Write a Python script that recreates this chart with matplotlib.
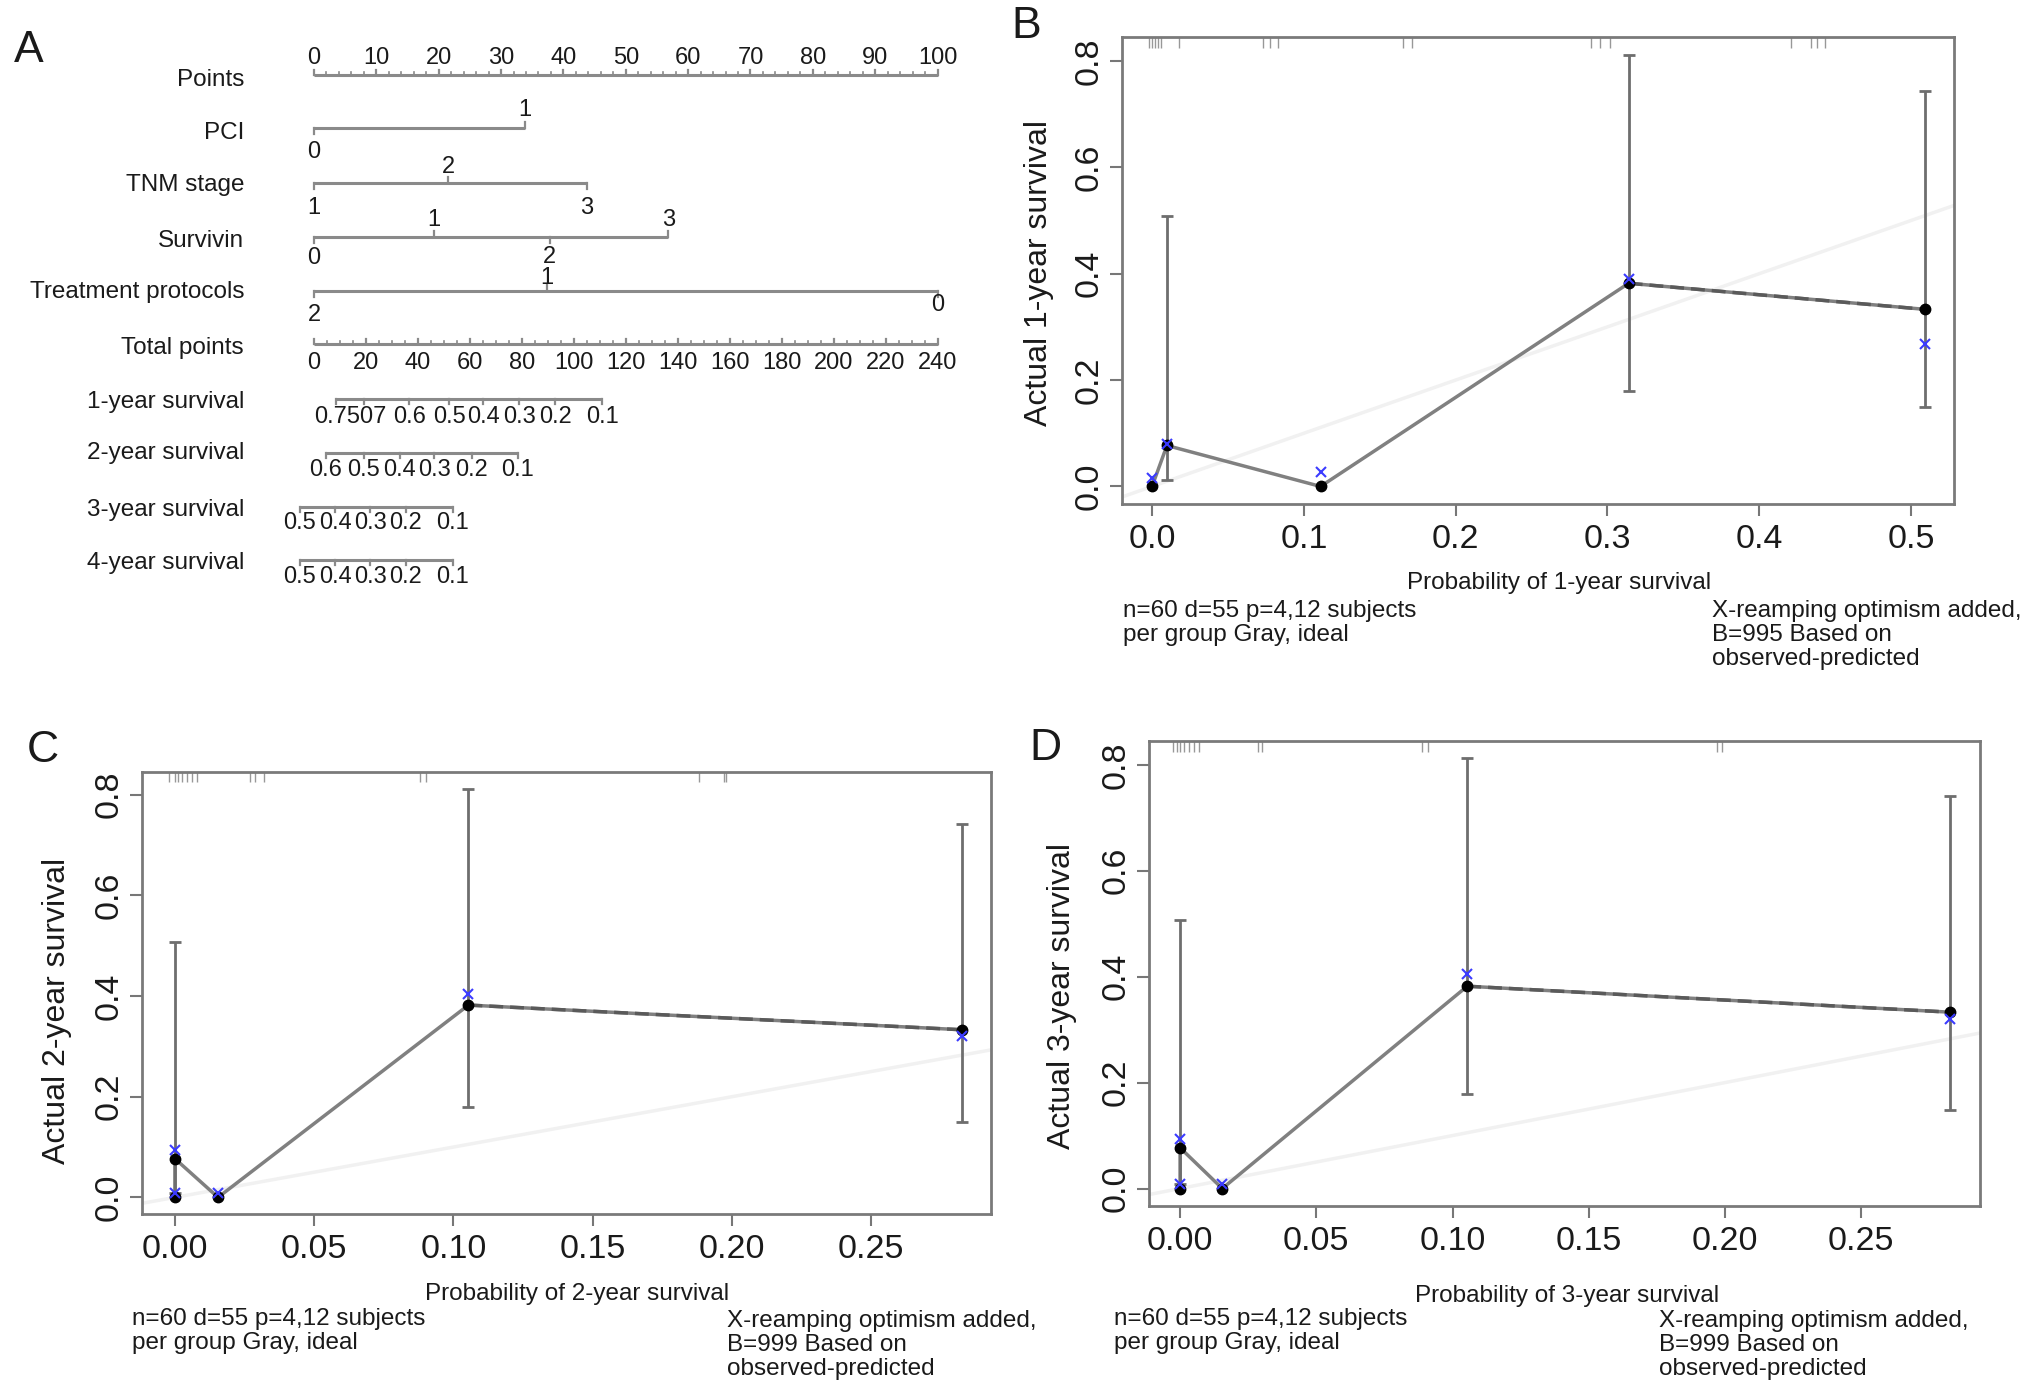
import numpy as np
import matplotlib
matplotlib.use("Agg")
import matplotlib.pyplot as plt

plt.rcParams['font.family'] = ['Liberation Sans', 'DejaVu Sans']

# ---------------- Data: nomogram (panel A) ----------------
points_ticks = list(range(0, 101, 10))
pci_levels = ['0', '1']
pci_points = [0, 33.8]
tnm_levels = ['1', '2', '3']
tnm_points = [0, 21.5, 43.8]
survivin_levels = ['0', '1', '2', '3']
survivin_points = [0, 19.2, 37.8, 56.8]
treat_levels = ['2', '1', '0']
treat_points = [0, 37.4, 100]
total_ticks = list(range(0, 241, 20))
surv1_labels = ['0.7507', '', '0.6', '0.5', '0.4', '0.3', '0.2', '0.1']
surv1_total = [8.5, 19.2, 36.6, 52.0, 65.1, 79.0, 92.8, 110.9]
surv2_labels = ['0.6', '0.5', '0.4', '0.3', '0.2', '0.1']
surv2_total = [4.6, 19.2, 33.1, 46.2, 60.8, 78.5]
surv3_labels = ['0.5', '0.4', '0.3', '0.2', '0.1']
surv3_total = [-5.4, 8.1, 21.6, 35.4, 53.5]
surv4_labels = ['0.5', '0.4', '0.3', '0.2', '0.1']
surv4_total = [-5.4, 8.1, 21.6, 35.4, 53.5]

# ---------------- Data: calibration panels ----------------
b_pred = [0.0, 0.0098, 0.111, 0.314, 0.509]
b_obs = [0.0, 0.077, 0.0, 0.382, 0.333]
b_corr = [0.015, 0.080, 0.028, 0.390, 0.268]
b_lo = [np.nan, 0.012, np.nan, 0.179, 0.150]
b_hi = [np.nan, 0.508, np.nan, 0.812, 0.743]
b_rug = [-0.002, 0.0, 0.002, 0.004, 0.006, 0.018, 0.073, 0.078, 0.083, 0.165, 0.171,
         0.289, 0.295, 0.302, 0.421, 0.434, 0.438, 0.443]

c_pred = [0.0, 0.0, 0.0155, 0.1054, 0.2825]
c_obs = [0.0, 0.077, 0.0, 0.382, 0.333]
c_corr = [0.008, 0.094, 0.008, 0.405, 0.320]
c_lo = [np.nan, 0.008, np.nan, 0.179, 0.149]
c_hi = [np.nan, 0.507, np.nan, 0.812, 0.742]
c_rug = [-0.002, 0.0, 0.001, 0.0025, 0.0043, 0.006, 0.008, 0.027, 0.0287, 0.032,
         0.088, 0.090, 0.188, 0.197, 0.198]

d_pred = [0.0, 0.0, 0.0155, 0.1054, 0.2825]
d_obs = [0.0, 0.077, 0.0, 0.382, 0.333]
d_corr = [0.008, 0.094, 0.008, 0.405, 0.320]
d_lo = [np.nan, 0.008, np.nan, 0.179, 0.149]
d_hi = [np.nan, 0.507, np.nan, 0.812, 0.742]
d_rug = [-0.0026, -0.001, 0.0, 0.0015, 0.0033, 0.005, 0.007, 0.0286, 0.030,
         0.0887, 0.091, 0.197, 0.199]

W, H = 2032, 1394
fig = plt.figure(figsize=(W / 100, H / 100), dpi=100)
fig.patch.set_facecolor('white')

def fx(px):
    return px / W

def fy(py):
    return 1 - py / H

TXT = '#1a1a1a'
GREY = '#8a8a8a'

# ---------------- Panel A: nomogram ----------------
axA = fig.add_axes([0, fy(640), fx(1000), 640 / H])
axA.axis('off')
ppx = (937.5 - 314) / 100.0
axA.set_xlim(-314 / ppx, (1000 - 314) / ppx)
axA.set_ylim(640, 0)
name_x = (244 - 314) / ppx
NFS = 17.5
LFS = 17
lw_axis = 2.2

def row_name(y, name):
    axA.text(name_x, y, name, ha='right', va='center', fontsize=NFS, color=TXT)

# Points row
yP = 75
axA.plot([0, 100], [yP, yP], color=GREY, lw=lw_axis, solid_capstyle='butt')
for v in np.arange(0, 100.01, 2):
    axA.plot([v, v], [yP, yP - 3], color=GREY, lw=1.2)
for v in points_ticks:
    axA.plot([v, v], [yP, yP - 5], color=GREY, lw=1.6)
    axA.text(v, 58, str(v), ha='center', va='center', fontsize=LFS, color=TXT)
row_name(80, 'Points')

def factor_row(y, name, levels, pts, offs, yname):
    axA.plot([min(pts), max(pts)], [y, y], color=GREY, lw=lw_axis, solid_capstyle='butt')
    for lev, p, off in zip(levels, pts, offs):
        sgn = -1 if off < 0 else 1
        axA.plot([p, p], [y, y + 6 * sgn], color=GREY, lw=1.6)
        axA.text(p, y + off, lev, ha='center', va='center', fontsize=LFS, color=TXT)
    row_name(yname, name)

factor_row(128, 'PCI', pci_levels, pci_points, [24, -18], 133)
factor_row(183, 'TNM stage', tnm_levels, tnm_points, [25, -16, 25], 185)
factor_row(237, 'Survivin', survivin_levels, survivin_points, [21, -17, 20, -17], 241)
factor_row(291, 'Treatment protocols', treat_levels, treat_points, [24, -13, 14], 292)

# Total points row
yT = 344
tscale = 100 / 240.0
axA.plot([0, 100], [yT, yT], color=GREY, lw=lw_axis, solid_capstyle='butt')
for v in np.arange(0, 240.01, 5):
    axA.plot([v * tscale] * 2, [yT, yT - 3], color=GREY, lw=1.2)
for v in total_ticks:
    axA.plot([v * tscale] * 2, [yT, yT - 5], color=GREY, lw=1.6)
    axA.text(v * tscale, 363, str(v), ha='center', va='center', fontsize=LFS, color=TXT)
row_name(348, 'Total points')

def surv_row(y, name, labels, totals, ylab, yname):
    p = [t * tscale for t in totals]
    axA.plot([p[0], p[-1]], [y, y], color=GREY, lw=lw_axis, solid_capstyle='butt')
    for i, (lab, pp) in enumerate(zip(labels, p)):
        axA.plot([pp, pp], [y, y + 5], color=GREY, lw=1.6)
        if lab == '':
            continue
        xpos = pp
        if i + 1 < len(labels) and labels[i + 1] == '':
            xpos = (pp + p[i + 1]) / 2
        axA.text(xpos, ylab, lab, ha='center', va='center', fontsize=LFS, color=TXT)
    row_name(yname, name)

surv_row(399, '1-year survival', surv1_labels, surv1_total, 417, 402)
surv_row(453, '2-year survival', surv2_labels, surv2_total, 470, 453)
surv_row(507, '3-year survival', surv3_labels, surv3_total, 523, 510)
surv_row(560, '4-year survival', surv4_labels, surv4_total, 577, 563)

# ---------------- Calibration panels ----------------
YLIM = (-0.033, 0.845)

def calib(box, xlim, xticks, xfmt, pred, obs, corr, lo, hi, rug):
    l, t, r, b = box
    ax = fig.add_axes([fx(l), fy(b), fx(r) - fx(l), (b - t) / H])
    ax.set_xlim(*xlim)
    ax.set_ylim(*YLIM)
    ax.axline((0, 0), slope=1, color='#f1f1f1', lw=2.5, zorder=1)
    # rug of predicted probabilities
    ax.vlines(rug, YLIM[1] - 0.02, YLIM[1], color='#444444', lw=1.0, alpha=0.55, zorder=2)
    # connecting line
    ax.plot(pred, obs, color='#808080', lw=2.5, zorder=3)
    ax.plot(pred[-2:], obs[-2:], color='#5a5a5a', lw=2.5, ls=(0, (4, 2)), zorder=3)
    # error bars
    lo_a = np.array(lo)
    hi_a = np.array(hi)
    obs_a = np.array(obs)
    m = ~np.isnan(lo_a)
    ax.errorbar(np.array(pred)[m], obs_a[m],
                yerr=[obs_a[m] - lo_a[m], hi_a[m] - obs_a[m]],
                fmt='none', ecolor='#6e6e6e', elinewidth=2, capsize=4.5, capthick=2, zorder=4)
    ax.plot(pred, obs, 'o', color='black', ms=7.5, zorder=5)
    ax.plot(pred, corr, 'x', color='#3b3bff', ms=7.5, mew=1.5, zorder=6)
    ax.set_xticks(xticks)
    ax.set_xticklabels([xfmt.format(v) for v in xticks])
    yt = [0.0, 0.2, 0.4, 0.6, 0.8]
    ax.set_yticks(yt)
    ax.set_yticklabels(['{:.1f}'.format(v) for v in yt], rotation=90, va='center')
    ax.tick_params(direction='out', length=8.5, width=1.5, color='#777777',
                   labelsize=24.5, labelcolor=TXT)
    ax.tick_params(axis='x', pad=6)
    ax.tick_params(axis='y', pad=4)
    for s in ax.spines.values():
        s.set_color('#7a7a7a')
        s.set_linewidth(2)
    return ax

calib((1122, 37, 1954, 504), (-0.0198, 0.5283), [0, 0.1, 0.2, 0.3, 0.4, 0.5], '{:.1f}',
      b_pred, b_obs, b_corr, b_lo, b_hi, b_rug)
calib((142, 772, 991, 1214), (-0.0118, 0.293), [0, 0.05, 0.10, 0.15, 0.20, 0.25], '{:.2f}',
      c_pred, c_obs, c_corr, c_lo, c_hi, c_rug)
calib((1149, 741, 1980, 1206), (-0.0114, 0.2936), [0, 0.05, 0.10, 0.15, 0.20, 0.25], '{:.2f}',
      d_pred, d_obs, d_corr, d_lo, d_hi, d_rug)

def ftext(px, py, s, **kw):
    fig.text(fx(px), fy(py), s, color=TXT, **kw)

# Axis labels
ftext(1039, 273, 'Actual 1-year survival', rotation=90, ha='center', va='center', fontsize=23)
ftext(57, 1011, 'Actual 2-year survival', rotation=90, ha='center', va='center', fontsize=23)
ftext(1062, 996, 'Actual 3-year survival', rotation=90, ha='center', va='center', fontsize=23)
ftext(1559, 583, 'Probability of 1-year survival', ha='center', va='center', fontsize=17.5)
ftext(577, 1294, 'Probability of 2-year survival', ha='center', va='center', fontsize=17.5)
ftext(1567, 1296, 'Probability of 3-year survival', ha='center', va='center', fontsize=17.5)

left_cap = ['n=60 d=55 p=4,12 subjects', 'per group Gray, ideal']
right_cap_B = ['X-reamping optimism added,', 'B=995 Based on', 'observed-predicted']
right_cap_CD = ['X-reamping optimism added,', 'B=999 Based on', 'observed-predicted']

def caption(x, y0, lines):
    for i, s in enumerate(lines):
        ftext(x, y0 + 24 * i, s, ha='left', va='center', fontsize=17.5)

caption(1123, 611, left_cap)
caption(1712, 611, right_cap_B)
caption(132, 1319, left_cap)
caption(727, 1321, right_cap_CD)
caption(1114, 1319, left_cap)
caption(1659, 1321, right_cap_CD)

# Panel letters
for lab, (px, py) in zip(['A', 'B', 'C', 'D'], [(29, 50), (1026, 26), (43, 751), (1045, 748)]):
    ftext(px, py, lab, ha='center', va='center', fontsize=32)

fig.savefig('out.png', dpi=100, facecolor='white')
